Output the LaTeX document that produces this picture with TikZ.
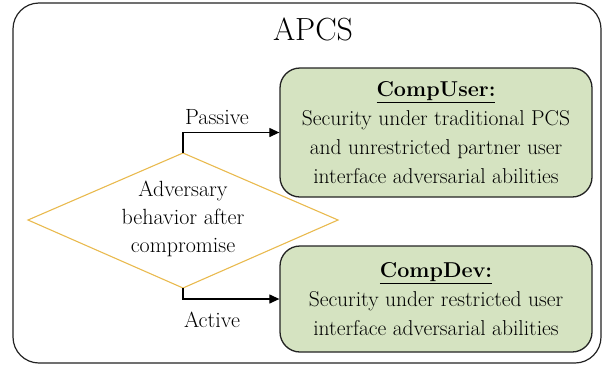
\documentclass[tikz,border=0pt]{standalone}
\usepackage{fontspec}
\usetikzlibrary{arrows.meta}
\definecolor{boxgreen}{RGB}{213,227,193}
\definecolor{boxline}{RGB}{35,35,35}
\definecolor{diamondline}{RGB}{233,186,78}
\begin{document}
\begin{tikzpicture}[x=1pt,y=-1pt,
  frame/.style={draw=boxline, line width=1.2pt, rounded corners=26pt},
  resultbox/.style={draw=boxline, fill=boxgreen, line width=1.3pt, rounded corners=20pt,
    minimum width=312pt, align=center, inner sep=0pt,
    font=\fontsize{21.5}{29}\selectfont},
  decisionline/.style={draw=diamondline, line width=1.1pt},
  caption/.style={font=\fontsize{22}{28}\selectfont, align=center, inner sep=0pt},
  arr/.style={draw=black, line width=1.2pt, -{Triangle[length=10pt,width=9pt]}}]
\useasboundingbox (0,0) rectangle (609,370);

% outer frame and title
\node[frame, minimum width=588pt, minimum height=360pt] (apcs) at (307,183) {};
\node[caption, font=\fontsize{32}{36}\selectfont] (title) at (313,29) {APCS};

% decision diamond
\coordinate (dleft) at (28,220);
\coordinate (dtop) at (183,153);
\coordinate (dright) at (338,220);
\coordinate (dbot) at (183,288);
\draw[decisionline] (dleft) -- (dtop) -- (dright) -- (dbot) -- cycle;
\node[caption] (question) at (183,219) {Adversary\\behavior after\\compromise};

% outcome boxes
\node[resultbox, minimum height=129pt] (compuser) at (436,132.5)
  {\underline{\textbf{CompUser:}}\\Security under traditional PCS\\and unrestricted partner user\\interface adversarial abilities};
\node[resultbox, minimum height=106pt] (compdev) at (436,299)
  {\underline{\textbf{CompDev:}}\\Security under restricted user\\interface adversarial abilities};

% branches
\draw[arr] (dtop) |- (compuser.west);
\draw[arr] (dbot) |- (compdev.west);
\node[caption] (passive) at (217,117) {Passive};
\node[caption] (active) at (212,320) {Active};
\end{tikzpicture}
\end{document}
